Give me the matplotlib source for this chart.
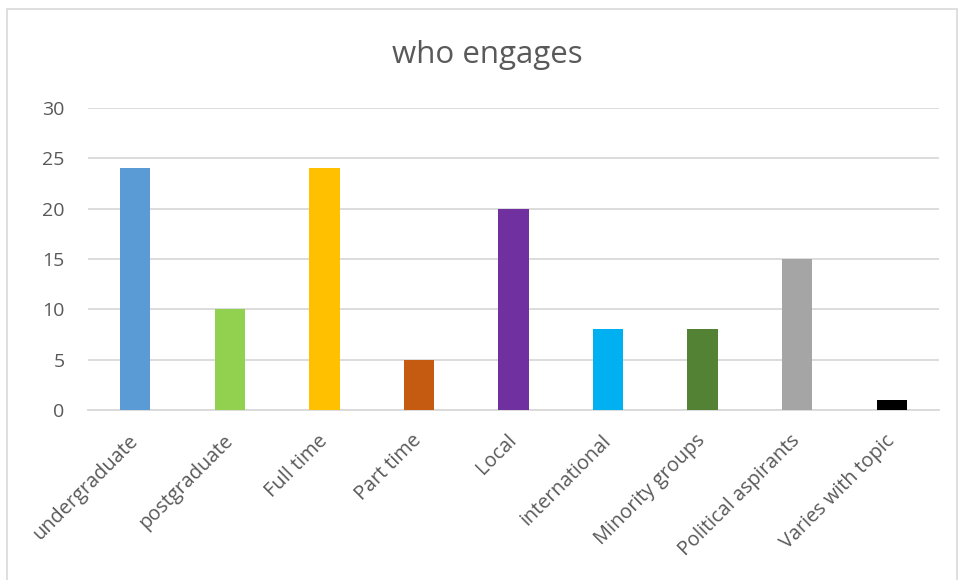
import matplotlib
matplotlib.use("Agg")
import matplotlib.pyplot as plt
from matplotlib.patches import Rectangle

categories = ["undergraduate", "postgraduate", "Full time", "Part time", "Local",
              "international", "Minority groups", "Political aspirants", "Varies with topic"]
values = [24, 10, 24, 5, 20, 8, 8, 15, 1]
colors = ["#5B9BD5", "#92D050", "#FFC000", "#C55A11", "#7030A0",
          "#00B0F0", "#548235", "#A5A5A5", "#000000"]
yticks = [0, 5, 10, 15, 20, 25, 30]

plt.rcParams["font.family"] = ["Open Sans", "DejaVu Sans"]
text_color = "#595959"
grid_color = "#D9D9D9"

fig = plt.figure(figsize=(9.59, 5.80), dpi=100)
W, H = 959, 580
ax = fig.add_axes([88 / W, 1 - 410 / H, (939 - 88) / W, (410 - 108) / H])

x = range(len(categories))
ax.bar(x, values, width=0.32, color=colors, zorder=3)
ax.set_xlim(-0.5, len(categories) - 0.5)
ax.set_ylim(0, 30)
ax.set_yticks(yticks)
ax.yaxis.grid(True, color=grid_color, linewidth=1.3, zorder=0)
ax.set_axisbelow(True)
for s in ["top", "right", "left"]:
    ax.spines[s].set_visible(False)
ax.spines["bottom"].set_color(grid_color)
ax.spines["bottom"].set_linewidth(1.3)
ax.tick_params(axis="y", length=0, pad=17, labelsize=14, labelcolor=text_color)
ax.tick_params(axis="x", length=0, pad=20)
ax.set_xticks(list(x))
ax.set_xticklabels(categories, rotation=45, ha="right", va="center",
                   rotation_mode="anchor", fontsize=14.3, color=text_color)

fig.text(487 / W, 1 - 55 / H, "who engages", ha="center", va="center",
         fontsize=22.5, color=text_color)

# chart frame
fig.patches.append(Rectangle((7 / W, -0.05), (957 - 7) / W, 1 - 9 / H + 0.05,
                             transform=fig.transFigure, fill=False,
                             edgecolor=grid_color, linewidth=1.2))

fig.savefig("out.png", dpi=100)
